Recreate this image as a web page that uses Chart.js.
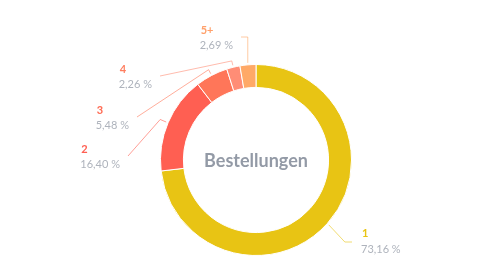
<!DOCTYPE html>
<html>
<head>
<meta charset="utf-8">
<script src="https://cdn.jsdelivr.net/npm/chart.js@4"></script>
<style>
  html, body { margin: 0; padding: 0; background: #fff; }
  #wrap { width: 480px; height: 278px; position: relative; }
</style>
</head>
<body>
<div id="wrap"><canvas id="orders_chart"></canvas></div>
<script>
// Bestellungen pro Kunde (Anteil in %)
let categories = ["1", "2", "3", "4", "5+"];
let shares = [73.16, 16.40, 5.48, 2.26, 2.69];
let shareLabels = ["73,16 %", "16,40 %", "5,48 %", "2,26 %", "2,69 %"];
let colors = ["#E8C414", "#FF5F52", "#FF7659", "#FF8D76", "#FFA967"];
let textColors = ["#E8C414", "#FF5F52", "#FF6A52", "#FF7D5E", "#FFA06A"];

// where each leader line bends and ends, relative to the donut centre
let leaders = [
    { bend: 119, end: [96, 82], side: "right" },
    { bend: 104, end: [-128, -4], side: "left" },
    { bend: 102, end: [-119, -43], side: "left" },
    { bend: 102, end: [-96, -84], side: "left" },
    { bend: 123, end: [-15, -123], side: "left" }
];

const labelPlugin = {
    id: "leaderLabels",
    afterDraw(chart) {
        const ctx = chart.ctx;
        const meta = chart.getDatasetMeta(0);
        ctx.save();
        meta.data.forEach(function (arc, i) {
            const p = arc.getProps(["x", "y", "startAngle", "endAngle", "outerRadius"], true);
            const mid = (p.startAngle + p.endAngle) / 2;
            const r0 = p.outerRadius + 2;
            const sx = p.x + Math.cos(mid) * r0;
            const sy = p.y + Math.sin(mid) * r0;
            const bx = p.x + Math.cos(mid) * leaders[i].bend;
            const by = p.y + Math.sin(mid) * leaders[i].bend;
            const ex = p.x + leaders[i].end[0];
            const ey = p.y + leaders[i].end[1];

            ctx.strokeStyle = colors[i];
            ctx.globalAlpha = 0.6;
            ctx.lineWidth = 1;
            ctx.beginPath();
            ctx.moveTo(sx, sy);
            if (i == 0) {
                ctx.lineTo(bx, ey);
            } else if (i == 4) {
                ctx.lineTo(sx, ey);
            } else {
                ctx.lineTo(bx, by);
            }
            ctx.lineTo(ex, ey);
            ctx.stroke();
            ctx.globalAlpha = 1;

            ctx.textBaseline = "middle";
            ctx.textAlign = "left";
            ctx.font = "11px Lato";
            const w = ctx.measureText(shareLabels[i]).width;
            let tx, ny, py;
            if (leaders[i].side == "right") {
                tx = ex + 9;
                ny = ey - 9;
                py = ey + 7;
            } else {
                tx = ex - 8 - w;
                ny = ey - 7;
                py = ey + 8;
            }
            ctx.fillStyle = "#AEB3BC";
            ctx.fillText(shareLabels[i], tx, py);
            ctx.font = "bold 11px Lato";
            ctx.fillStyle = textColors[i];
            ctx.fillText(categories[i], tx + 1, ny);
        });

        // centre title
        const a = meta.data[0];
        ctx.font = "bold 18px Lato";
        ctx.fillStyle = "#939AA6";
        ctx.textAlign = "center";
        ctx.textBaseline = "middle";
        ctx.fillText("Bestellungen", a.x, a.y + 1);
        ctx.restore();
    }
};

let ctx = document.getElementById("orders_chart");
let ordersChart = new Chart(ctx, {
    type: "doughnut",
    data: {
        labels: categories,
        datasets: [{
            data: shares,
            backgroundColor: colors,
            borderColor: "#ffffff",
            borderWidth: 1
        }]
    },
    options: {
        responsive: true,
        maintainAspectRatio: false,
        animation: false,
        cutout: "76%",
        layout: {
            padding: { left: 160, right: 128, top: 64, bottom: 22 }
        },
        plugins: {
            legend: { display: false },
            tooltip: { enabled: false }
        }
    },
    plugins: [labelPlugin]
});
</script>
</body>
</html>
